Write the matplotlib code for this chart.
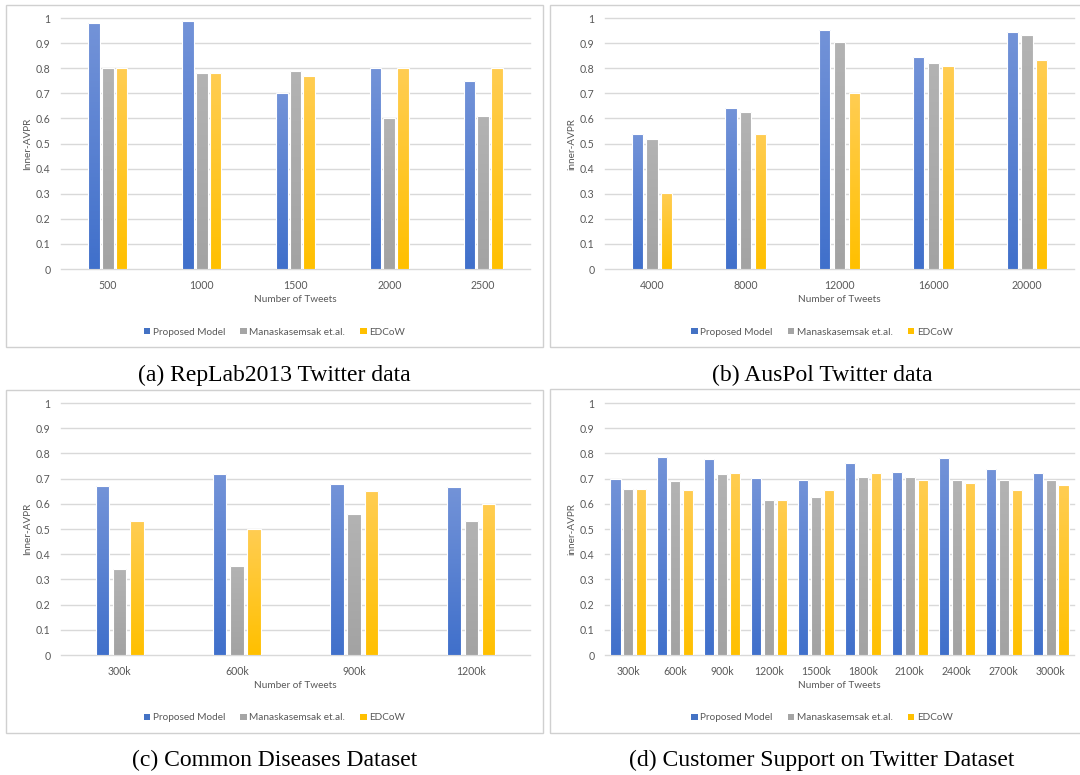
import matplotlib
matplotlib.use('Agg')
import matplotlib.pyplot as plt
import matplotlib.patches as mpatches
from matplotlib.colors import LinearSegmentedColormap
import numpy as np

SERIES = ['Proposed Model', 'Manaskasemsak et.al.', 'EDCoW']

# (a) RepLab2013
rep_cats = ['500', '1000', '1500', '2000', '2500']
rep_proposed = [0.98, 0.99, 0.70, 0.80, 0.75]
rep_manas = [0.80, 0.78, 0.79, 0.60, 0.61]
rep_edcow = [0.80, 0.78, 0.77, 0.80, 0.80]

# (b) AusPol
aus_cats = ['4000', '8000', '12000', '16000', '20000']
aus_proposed = [0.538, 0.641, 0.953, 0.845, 0.946]
aus_manas = [0.519, 0.625, 0.904, 0.821, 0.932]
aus_edcow = [0.301, 0.538, 0.701, 0.810, 0.833]

# (c) Common Diseases
dis_cats = ['300k', '600k', '900k', '1200k']
dis_proposed = [0.669, 0.718, 0.677, 0.667]
dis_manas = [0.340, 0.355, 0.559, 0.530]
dis_edcow = [0.530, 0.500, 0.649, 0.600]

# (d) Customer Support
cs_cats = ['300k', '600k', '900k', '1200k', '1500k', '1800k', '2100k', '2400k', '2700k', '3000k']
cs_proposed = [0.700, 0.787, 0.779, 0.704, 0.694, 0.763, 0.728, 0.783, 0.737, 0.724]
cs_manas = [0.659, 0.690, 0.720, 0.616, 0.628, 0.706, 0.706, 0.694, 0.694, 0.694]
cs_edcow = [0.659, 0.655, 0.724, 0.616, 0.655, 0.724, 0.694, 0.684, 0.655, 0.675]

ytick_vals = [0, 0.1, 0.2, 0.3, 0.4, 0.5, 0.6, 0.7, 0.8, 0.9, 1.0]
ytick_labels = ['0', '0.1', '0.2', '0.3', '0.4', '0.5', '0.6', '0.7', '0.8', '0.9', '1']

# gradient (top, bottom) per series, Office-style fills
GRADS = [('#7393d8', '#4070cb'), ('#b3b3b3', '#a3a3a3'), ('#ffcd52', '#ffc000')]
SOLID = ['#4472c4', '#a5a5a5', '#ffc000']
GRID = '#d9d9d9'
TXT = '#595959'
FONT = 'Lato'

W, H = 1080, 775
fig = plt.figure(figsize=(W / 100, H / 100), dpi=100)
fig.patch.set_facecolor('white')


def px_box(x0, y0, x1, y1):
    """figure-fraction rect from pixel corners (top-left origin)"""
    return [x0 / W, 1 - y1 / H, (x1 - x0) / W, (y1 - y0) / H]


def gbar(ax, xs, vals, width, grad):
    cmap = LinearSegmentedColormap.from_list('g', [grad[1], grad[0]])
    grad_img = np.linspace(0, 1, 64).reshape(-1, 1)
    bars = ax.bar(xs, vals, width, facecolor='none', edgecolor='white', lw=0.8, zorder=4)
    for r in bars:
        x0, w, h = r.get_x(), r.get_width(), r.get_height()
        im = ax.imshow(grad_img, extent=[x0, x0 + w, 0, h], origin='lower',
                       aspect='auto', cmap=cmap, zorder=3, interpolation='bicubic')
        im.set_clip_path(r)


def panel(box, plot, cats, data, ylabel, caption, cap_y, width, step):
    # chart-area frame
    bx0, by0, bx1, by1 = box
    fig.patches.append(mpatches.Rectangle((bx0 / W, 1 - by1 / H), (bx1 - bx0) / W,
                                          (by1 - by0) / H, transform=fig.transFigure,
                                          fill=False, edgecolor='#d0d0d0', lw=1.0))
    px0, py0, px1, py1 = plot
    ax = fig.add_axes(px_box(px0, py0, px1, py1))
    n = len(cats)
    x = np.arange(n)
    for i, vals in enumerate(data):
        gbar(ax, x + (i - 1) * step, vals, width, GRADS[i])
    ax.set_xlim(-0.5, n - 0.5)
    ax.set_ylim(0, 1)
    ax.set_yticks(ytick_vals)
    ax.set_yticklabels(ytick_labels)
    ax.set_xticks(x)
    ax.set_xticklabels(cats)
    for yv in ytick_vals:
        ax.axhline(yv, color=GRID, lw=1.0, zorder=1, clip_on=False)
    for s in ax.spines.values():
        s.set_visible(False)
    ax.tick_params(length=0, colors=TXT, labelsize=7.6)
    ax.tick_params(axis='y', pad=7.5)
    ax.tick_params(axis='x', pad=8)
    for t in ax.get_xticklabels() + ax.get_yticklabels():
        t.set_fontfamily(FONT)
    ax.set_facecolor('none')

    # axis titles
    fig.text((px0 + px1) / 2 / W, 1 - (py1 + 31) / H, 'Number of Tweets', ha='center',
             va='center', fontsize=7.2, color=TXT, family=FONT)
    fig.text((bx0 + 22) / W, 1 - (py0 + py1) / 2 / H, ylabel, rotation=90, ha='center',
             va='center', fontsize=7.2, color=TXT, family=FONT)

    # legend centered on chart area
    handles = [mpatches.Patch(facecolor=SOLID[i], edgecolor='none') for i in range(3)]
    leg = fig.legend(handles, SERIES, loc='center', ncol=3, frameon=False,
                     bbox_to_anchor=((bx0 + bx1) / 2 / W, 1 - (py1 + 63) / H),
                     bbox_transform=fig.transFigure, handlelength=0.65, handleheight=0.65,
                     handletextpad=0.25, columnspacing=1.5,
                     prop={'family': FONT, 'size': 7.2})
    for t in leg.get_texts():
        t.set_color(TXT)

    fig.text((bx0 + min(bx1, W + 14)) / 2 / W, 1 - cap_y / H, caption, ha='center',
             va='center', fontsize=17, family='Liberation Serif', color='black')
    return ax


panel((6, 5, 543, 347), (61, 18, 530, 269), rep_cats,
      [rep_proposed, rep_manas, rep_edcow], 'Inner-AVPR',
      '(a) RepLab2013 Twitter data', 375, 0.125, 0.146)
panel((550, 5, 1094, 347), (605, 18, 1074, 269), aus_cats,
      [aus_proposed, aus_manas, aus_edcow], 'inner-AVPR',
      '(b) AusPol Twitter data', 375, 0.12, 0.156)
panel((6, 390, 543, 733), (61, 403, 530, 655), dis_cats,
      [dis_proposed, dis_manas, dis_edcow], 'Inner-AVPR',
      '(c) Common Diseases Dataset', 760, 0.115, 0.148)
panel((550, 389, 1094, 733), (605, 403, 1074, 655), cs_cats,
      [cs_proposed, cs_manas, cs_edcow], 'inner-AVPR',
      '(d) Customer Support on Twitter Dataset', 760, 0.215, 0.276)

plt.savefig('out.png', dpi=100, facecolor='white')
plt.close()
